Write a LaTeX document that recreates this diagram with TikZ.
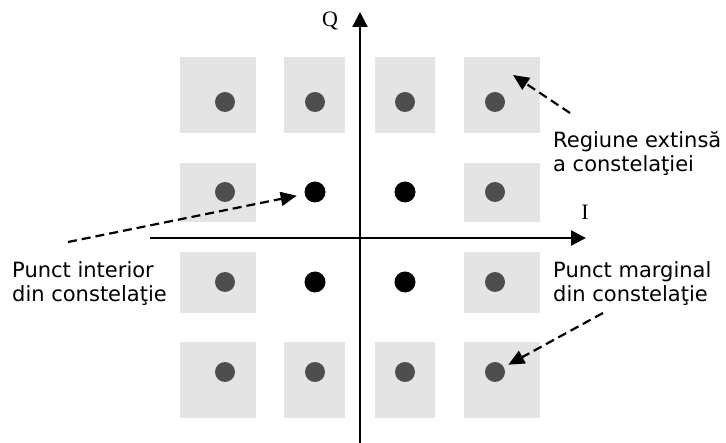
\documentclass[tikz,border=0pt]{standalone}
\usepackage{fontspec}
\setmainfont{DejaVu Sans}
\newfontfamily\axisfont{Liberation Serif}
\usetikzlibrary{arrows.meta,positioning}
\definecolor{regfill}{HTML}{E4E4E4}
\definecolor{margfill}{HTML}{4E4E4E}
\tikzset{
  axis/.style={line width=2.3pt, -{Triangle[length=15pt,width=15pt]}},
  callout/.style={line width=2.2pt, dash pattern=on 9pt off 5pt, -{Triangle[length=16pt,width=14pt]}},
  margpt/.style={circle, fill=margfill, minimum size=20pt, inner sep=0pt},
  intpt/.style={circle, fill=black, minimum size=21pt, inner sep=0pt},
  axislbl/.style={font=\axisfont\fontsize{22}{24}\selectfont, inner sep=0pt},
  lbl/.style={font=\fontsize{21}{24}\selectfont, align=left, anchor=west, inner sep=0pt},
}

\begin{document}
\begin{tikzpicture}[x=1pt,y=-1pt]
  \useasboundingbox (0,0) rectangle (726,443);
  % extended regions
  \foreach \xa/\xb in {180/256,284/345,375/435,464/540}
    \foreach \ya/\yb in {57/133,342/418}
      \fill[regfill] (\xa,\ya) rectangle (\xb,\yb);
  \foreach \xa/\xb in {180/256,464/540}
    \foreach \ya/\yb in {163/222,252/313}
      \fill[regfill] (\xa,\ya) rectangle (\xb,\yb);

  % axes
  \coordinate (iL) at (150,238);
  \coordinate (iR) at (586,238);
  \coordinate (qB) at (360,443);
  \coordinate (qT) at (360,12);
  \draw[axis] (iL) -- (iR);
  \draw[axis] (qB) -- (qT);
  \node[axislbl] (qlbl) at (330,21) {Q};
  \node[axislbl] (ilbl) at (585,212) {I};

  % constellation points
  \foreach \i/\j in {1/1,2/1,3/1,4/1,1/2,4/2,1/3,4/3,1/4,2/4,3/4,4/4}
    \node[margpt] (p\i\j) at ({135+90*\i},{12+90*\j}) {};
  \foreach \i/\j in {2/2,3/2,2/3,3/3}
    \node[intpt] (p\i\j) at ({135+90*\i},{12+90*\j}) {};

  % labels
  \node[lbl] (regtxt) at (553,153.5) {Regiune extinsă\\a constelaţiei};
  \node[lbl] (inttxt) at (12,283.5) {Punct interior\\din constelaţie};
  \node[lbl] (margtxt) at (553,284) {Punct marginal\\din constelaţie};

  % callouts
  \coordinate (regfrom) at (570,113);
  \coordinate (regto) at (513,75);
  \coordinate (intfrom) at (68,242);
  \coordinate (margfrom) at (603,313);
  \draw[callout] (regfrom) -- (regto);
  \draw[callout, shorten >=8pt] (intfrom) -- (p22);
  \draw[callout, shorten >=5pt] (margfrom) -- (p44);
\end{tikzpicture}
\end{document}
